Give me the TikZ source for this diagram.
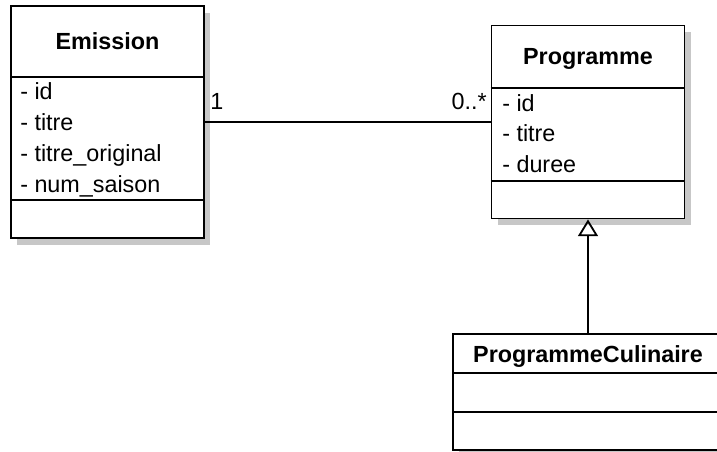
\documentclass[tikz,border=0pt]{standalone}
\usepackage{fontspec}
\setmainfont{Liberation Sans}
\usetikzlibrary{arrows.meta,shadows}
\newcommand\umlfont{\fontsize{16.6}{20}\selectfont}
\tikzset{
  classbox/.style={draw, line width=1.3pt, fill=white, inner sep=0pt,
    general shadow={fill=black!22, shadow xshift=0.16cm, shadow yshift=-0.17cm}},
  sepline/.style={line width=1.3pt},
  attr/.style={anchor=base west, inner sep=0pt},
  clsname/.style={anchor=base, inner sep=0pt, font=\umlfont\bfseries}
}
\begin{document}
\begin{tikzpicture}[x=0.025cm,y=-0.025cm,font=\umlfont]
  \clip (0,0) rectangle (717,452);
  \node[classbox, minimum width=4.825cm, minimum height=5.8cm] (emission) at (107.5,122) {};
  \node[classbox, minimum width=4.825cm, minimum height=4.825cm] (programme) at (588,122) {};
  \node[classbox, minimum width=6.75cm, minimum height=2.9cm] (culinaire) at (588,392) {};
  \draw[sepline] (emission.west |- 0,77) -- (emission.east |- 0,77);
  \draw[sepline] (emission.west |- 0,200) -- (emission.east |- 0,200);
  \draw[sepline] (programme.west |- 0,88) -- (programme.east |- 0,88);
  \draw[sepline] (programme.west |- 0,181) -- (programme.east |- 0,181);
  \draw[sepline] (culinaire.west |- 0,373) -- (culinaire.east |- 0,373);
  \draw[sepline] (culinaire.west |- 0,412) -- (culinaire.east |- 0,412);
  \node[clsname] (emtitle) at (107.5,50) {Emission};
  \node[attr] (emid) at (20,100) {- id};
  \node[attr] (emtitre) at (20,131) {- titre};
  \node[attr] (emorig) at (20,162) {- titre\_original};
  \node[attr] (emsaison) at (20,193) {- num\_saison};
  \node[clsname] (prtitle) at (588,65) {Programme};
  \node[attr] (prid) at (502,112) {- id};
  \node[attr] (prtitre) at (502,142) {- titre};
  \node[attr] (prduree) at (502,173) {- duree};
  \node[clsname] (cutitle) at (588,362) {ProgrammeCulinaire};
  \draw[line width=1.3pt] (emission) -- (programme);
  \node[attr] (mult1) at (210,110) {1};
  \node[anchor=base east, inner sep=0pt] (multn) at (487,110) {0..*};
  \draw[line width=1.3pt, -{Triangle[open, length=0.42cm, width=0.5cm]}] (culinaire) -- (programme);
\end{tikzpicture}
\end{document}
